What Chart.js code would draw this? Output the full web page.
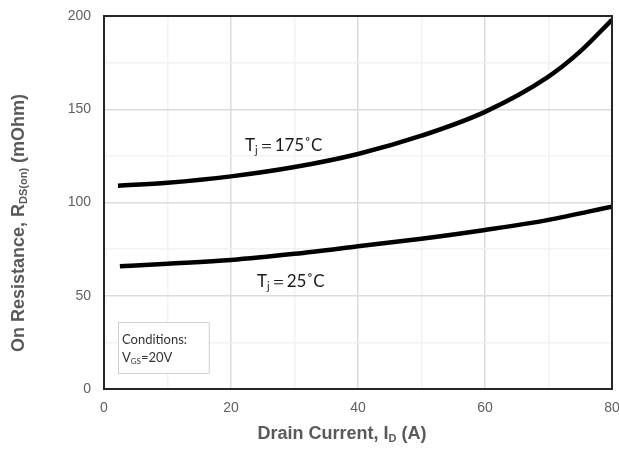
<!DOCTYPE html>
<html>
<head>
<meta charset="utf-8">
<script src="https://cdn.jsdelivr.net/npm/chart.js@4/dist/chart.umd.min.js"></script>
<style>
html,body{margin:0;padding:0;background:#fff;}
#wrap{width:619px;height:449px;position:relative;}
</style>
</head>
<body>
<div id="wrap"><canvas id="c" width="619" height="449"></canvas></div>
<script>
// ---- data ----
const currents175 = [2.2, 10, 20, 30, 40, 50, 60, 70, 75, 80];
const rds175 = [109, 110.6, 114, 119, 126, 135.8, 148.6, 167.5, 181, 198];
const currents25 = [2.5, 10, 20, 30, 40, 50, 60, 70, 80];
const rds25 = [65.8, 67.2, 69.2, 72.5, 76.5, 80.6, 85.3, 90.7, 97.8];
const xTickLabels = [0, 20, 40, 60, 80];
const yTickLabels = [0, 50, 100, 150, 200];
const seriesNames = ['Tj=175°C', 'Tj=25°C'];

const toPts = (xs, ys) => xs.map((x, i) => ({x: x, y: ys[i]}));

function drawRich(ctx, segs, x, y, size, family, weight, color, align) {
  ctx.save();
  ctx.fillStyle = color;
  ctx.textBaseline = 'alphabetic';
  ctx.textAlign = 'left';
  const fontFor = sub => `${weight} ${sub ? Math.round(size * 0.62) : size}px ${family}`;
  let total = 0;
  segs.forEach(s => { ctx.font = fontFor(s[1]); total += ctx.measureText(s[0]).width; });
  let cx = align === 'center' ? x - total / 2 : x;
  segs.forEach(s => {
    ctx.font = fontFor(s[1]);
    ctx.fillText(s[0], cx, y + (s[1] ? size * 0.18 : 0));
    cx += ctx.measureText(s[0]).width;
  });
  ctx.restore();
}

const decor = {
  id: 'decor',
  afterDatasetsDraw(chart) {
    const ctx = chart.ctx, a = chart.chartArea;
    const xs = chart.scales.x, ys = chart.scales.y;
    ctx.save();
    ctx.strokeStyle = '#262626';
    ctx.lineWidth = 2;
    ctx.strokeRect(a.left, a.top, a.right - a.left, a.bottom - a.top);
    ctx.restore();
    const ann = "Lato, 'Open Sans', sans-serif";
    drawRich(ctx, [['T', false], ['j', true], ['\uFF1D175\u02DAC', false]],
      xs.getPixelForValue(22.2), ys.getPixelForValue(127.6), 17, ann, 'normal', '#1a1a1a', 'left');
    drawRich(ctx, [['T', false], ['j', true], ['\uFF1D25\u02DAC', false]],
      xs.getPixelForValue(24.1), ys.getPixelForValue(54.7), 17, ann, 'normal', '#1a1a1a', 'left');
    const bx = xs.getPixelForValue(2.2), by = ys.getPixelForValue(35.9);
    const bw = xs.getPixelForValue(16.5) - bx, bh = ys.getPixelForValue(8.6) - by;
    ctx.save();
    ctx.fillStyle = '#fff';
    ctx.fillRect(bx, by, bw, bh);
    ctx.strokeStyle = '#cfcfcf';
    ctx.lineWidth = 1;
    ctx.strokeRect(bx + 0.5, by + 0.5, bw, bh);
    ctx.restore();
    drawRich(ctx, [['Conditions:', false]], bx + 4, by + 22, 13, ann, 'normal', '#333', 'left');
    drawRich(ctx, [['V', false], ['GS', true], ['=20V', false]], bx + 4, by + 40, 13, ann, 'normal', '#333', 'left');
  },
  afterDraw(chart) {
    const ctx = chart.ctx, a = chart.chartArea;
    const fam = "'Liberation Sans', Arial, sans-serif";
    drawRich(ctx, [['Drain Current, I', false], ['D', true], [' (A)', false]],
      (a.left + a.right) / 2 - 16, 439, 18, fam, 'bold', '#595959', 'center');
    ctx.save();
    ctx.translate(24, 223);
    ctx.rotate(-Math.PI / 2);
    drawRich(ctx, [['On Resistance, R', false], ['DS(on)', true], [' (mOhm)', false]],
      0, 0, 18, fam, 'bold', '#595959', 'center');
    ctx.restore();
  }
};

new Chart(document.getElementById('c'), {
  type: 'scatter',
  data: {
    datasets: [
      { label: seriesNames[0], data: toPts(currents175, rds175), showLine: true,
        borderColor: '#000', borderWidth: 4.5, pointRadius: 0, cubicInterpolationMode: 'monotone', fill: false },
      { label: seriesNames[1], data: toPts(currents25, rds25), showLine: true,
        borderColor: '#000', borderWidth: 4.5, pointRadius: 0, cubicInterpolationMode: 'monotone', fill: false }
    ]
  },
  options: {
    responsive: false,
    animation: false,
    devicePixelRatio: 1,
    layout: { padding: { top: 16, right: 7, left: 0, bottom: 0 } },
    plugins: { legend: { display: false }, tooltip: { enabled: false } },
    scales: {
      x: {
        type: 'linear', min: 0, max: 80,
        afterFit: s => { s.height = 60; s.paddingLeft = 0; s.paddingRight = 0; },
        ticks: {
          stepSize: 10, autoSkip: false, maxRotation: 0, padding: 11,
          color: '#5f5f5f', font: { family: "'Liberation Sans', Arial, sans-serif", size: 14 },
          callback: v => xTickLabels.includes(v) ? String(v) : ''
        },
        grid: {
          drawTicks: false,
          color: c => xTickLabels.includes(c.tick.value) ? '#dcdcdc' : '#f2f2f2',
          lineWidth: 1.5
        },
        border: { display: false }
      },
      y: {
        type: 'linear', min: 0, max: 200,
        afterFit: s => { s.width = 104; s.paddingTop = 0; s.paddingBottom = 0; },
        ticks: {
          stepSize: 25, autoSkip: false, padding: 13,
          color: '#5f5f5f', font: { family: "'Liberation Sans', Arial, sans-serif", size: 14 },
          callback: v => yTickLabels.includes(v) ? String(v) : ''
        },
        grid: {
          drawTicks: false,
          color: c => yTickLabels.includes(c.tick.value) ? '#dcdcdc' : '#f2f2f2',
          lineWidth: 1.5
        },
        border: { display: false }
      }
    }
  },
  plugins: [decor]
});
</script>
</body>
</html>
